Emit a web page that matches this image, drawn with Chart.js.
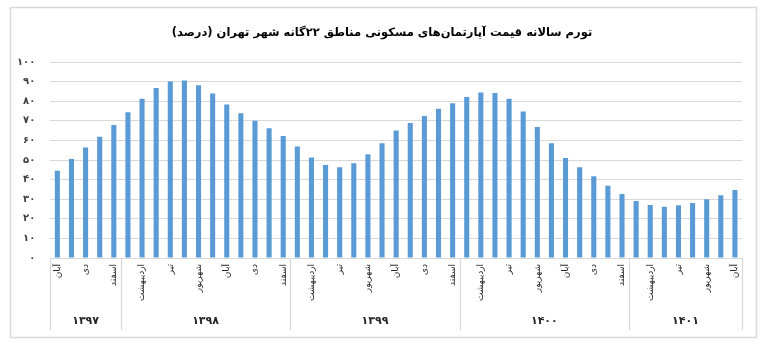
<!DOCTYPE html>
<html><head><meta charset="utf-8">
<script src="https://cdn.jsdelivr.net/npm/chart.js@4/dist/chart.umd.min.js"></script>
<style>html,body{margin:0;padding:0;background:#fff;}canvas{display:block}</style>
</head><body>
<canvas id="c" width="769" height="346"></canvas>
<script>
const chartTitle = 'تورم سالانه قیمت آپارتمان‌های مسکونی مناطق ۲۲گانه شهر تهران (درصد)';
const monthNames = ['فروردین','اردیبهشت','خرداد','تیر','مرداد','شهریور','مهر','آبان','آذر','دی','بهمن','اسفند'];
const years = ['۱۳۹۷','۱۳۹۸','۱۳۹۹','۱۴۰۰','۱۴۰۱'];
const firstMonthOfYear = [7,0,0,0,0];
const monthsInYear = [5,12,12,12,8];
const values1397 = [44.5,50.5,56.4,61.8,67.9];
const values1398 = [74.4,81.3,86.7,90.0,90.5,88.1,83.9,78.3,73.9,70.0,66.2,62.2];
const values1399 = [56.9,51.3,47.4,46.3,48.3,52.9,58.6,65.1,68.9,72.5,76.1,79.0];
const values1400 = [82.2,84.4,84.2,81.2,74.7,66.9,58.5,51.0,46.3,41.7,36.9,32.7];
const values1401 = [29.1,27.1,26.1,26.9,28.1,30.0,32.0,34.7];
const yMin = 0, yMax = 100, yStep = 10;

const categories = [];
years.forEach((y,i)=>{ for(let k=0;k<monthsInYear[i];k++) categories.push(monthNames[firstMonthOfYear[i]+k]); });
const values = [].concat(values1397,values1398,values1399,values1400,values1401);
const faDigits = '۰۱۲۳۴۵۶۷۸۹';
const toFa = n => String(n).replace(/\d/g, d => faDigits[+d]);
const FONT = "'DejaVu Sans', sans-serif";

const decor = {
  id:'decor',
  afterDraw(chart){
    const ctx = chart.ctx, ca = chart.chartArea, xs = chart.scales.x;
    ctx.save();
    // frame
    ctx.strokeStyle = '#d9d9d9'; ctx.lineWidth = 1.5;
    ctx.strokeRect(10.5, 7.5, 746, 330);
    // title
    ctx.direction = 'rtl';
    ctx.fillStyle = '#000';
    ctx.font = `bold 11.5px ${FONT}`;
    ctx.textAlign = 'center'; ctx.textBaseline = 'middle';
    ctx.fillText(chartTitle, 382, 33);
    // month labels
    ctx.font = `9px ${FONT}`;
    ctx.fillStyle = '#262626';
    categories.forEach((m,i)=>{
      if (i % 2 !== 0) return;
      const x = xs.getPixelForValue(i);
      ctx.save();
      ctx.translate(x, ca.bottom + 6);
      ctx.rotate(-Math.PI/2);
      ctx.textAlign = 'right'; ctx.textBaseline = 'middle';
      ctx.fillText(m, 0, 0);
      ctx.restore();
    });
    // group separators and year labels
    const half = (xs.getPixelForValue(1) - xs.getPixelForValue(0)) / 2;
    ctx.strokeStyle = '#d9d9d9'; ctx.lineWidth = 1.2;
    ctx.font = `bold 11px ${FONT}`;
    ctx.fillStyle = '#262626';
    let start = 0;
    const edges = [xs.getPixelForValue(0) - half];
    monthsInYear.forEach(n => { start += n; edges.push(xs.getPixelForValue(start-1) + half); });
    edges.forEach(x => {
      ctx.beginPath(); ctx.moveTo(Math.round(x)+0.5, ca.bottom); ctx.lineTo(Math.round(x)+0.5, 330); ctx.stroke();
    });
    years.forEach((y,i)=>{
      ctx.textAlign = 'center'; ctx.textBaseline = 'middle';
      ctx.fillText(y, (edges[i]+edges[i+1])/2, 321);
    });
    ctx.restore();
  }
};

new Chart(document.getElementById('c'), {
  type:'bar',
  data:{ labels: categories, datasets:[{ data: values, backgroundColor:'#5b9bd5', borderWidth:0, barPercentage:0.36, categoryPercentage:1 }] },
  options:{
    responsive:false, animation:false,
    layout:{ padding:{ left:10, top:62, right:27, bottom:88 } },
    plugins:{ legend:{display:false}, title:{display:false}, tooltip:{enabled:false} },
    scales:{
      x:{ display:true, offset:true, ticks:{display:false}, grid:{display:false, drawTicks:false}, border:{display:false} },
      y:{ min:yMin, max:yMax, ticks:{ stepSize:yStep, padding:15, color:'#404040', font:{family:FONT, size:10, weight:'bold'}, callback:v=>toFa(v) },
          grid:{ color:'#d9d9d9', drawTicks:false }, border:{display:false},
          afterFit(s){ s.width = 40.3; } }
    }
  },
  plugins:[decor]
});
</script>
</body></html>
